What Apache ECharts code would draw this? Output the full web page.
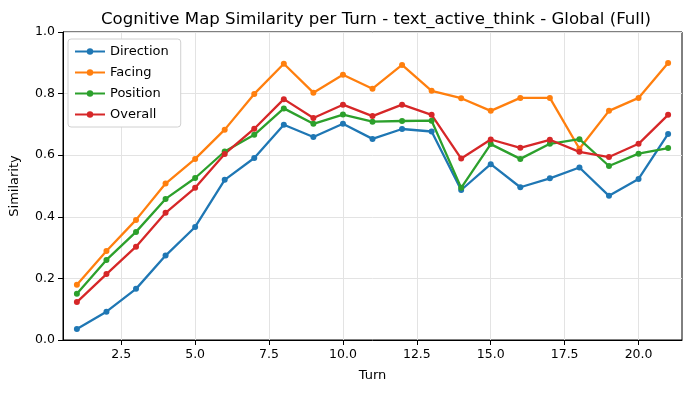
<!DOCTYPE html>
<html>
<head>
<meta charset="utf-8">
<script src="https://cdn.jsdelivr.net/npm/echarts@6/dist/echarts.min.js"></script>
<style>html,body{margin:0;padding:0;background:#fff}#c{width:691px;height:393px}</style>
</head>
<body>
<div id="c"></div>
<script>
const turns = [1,2,3,4,5,6,7,8,9,10,11,12,13,14,15,16,17,18,19,20,21];
const direction = [0.036,0.092,0.166,0.274,0.367,0.520,0.591,0.699,0.659,0.702,0.653,0.685,0.677,0.487,0.571,0.496,0.525,0.560,0.468,0.523,0.669];
const facing = [0.179,0.289,0.390,0.508,0.588,0.683,0.799,0.897,0.803,0.861,0.816,0.893,0.809,0.785,0.744,0.786,0.786,0.621,0.744,0.786,0.899];
const position = [0.150,0.260,0.351,0.458,0.526,0.612,0.666,0.752,0.702,0.732,0.709,0.711,0.712,0.494,0.636,0.588,0.637,0.652,0.565,0.605,0.623];
const overall = [0.123,0.214,0.303,0.413,0.494,0.604,0.686,0.782,0.721,0.764,0.727,0.764,0.731,0.589,0.651,0.624,0.650,0.611,0.594,0.637,0.731];
const xTicks = [2.5,5.0,7.5,10.0,12.5,15.0,17.5,20.0];
const yTicks = [0.0,0.2,0.4,0.6,0.8,1.0];

const font = 'DejaVu Sans';
const chart = echarts.init(document.getElementById('c'));
function mk(name, vals, color) {
  return {
    name: name, type: 'line',
    data: turns.map((t, i) => [t, vals[i]]),
    symbol: 'circle', symbolSize: 6,
    itemStyle: { color: color },
    lineStyle: { color: color, width: 2.3 },
    emphasis: { disabled: true },
    animation: false
  };
}
chart.setOption({
  animation: false,
  title: {
    text: 'Cognitive Map Similarity per Turn - text_active_think - Global (Full)',
    left: 371, top: 6, textAlign: 'center',
    textStyle: { fontFamily: font, fontSize: 16.6, fontWeight: 'normal', color: '#000' }
  },
  grid: { left: 62, right: 9, top: 32, bottom: 53, show: true, borderColor: '#000', borderWidth: 1, backgroundColor: 'transparent' },
  legend: {
    orient: 'vertical', left: 68, top: 39,
    itemWidth: 30, itemHeight: 8, itemGap: 8,
    padding: [6, 12, 6, 6],
    borderColor: '#d0d0d0', borderWidth: 1, borderRadius: 3, backgroundColor: '#fff',
    textStyle: { fontFamily: font, fontSize: 13, color: '#000' },
    data: ['Direction', 'Facing', 'Position', 'Overall']
  },
  xAxis: {
    type: 'value', min: 0.53, max: 21.47,
    name: 'Turn', nameLocation: 'middle', nameGap: 29,
    nameTextStyle: { fontFamily: font, fontSize: 13, color: '#000' },
    axisLine: { show: true, onZero: false, lineStyle: { color: '#000' } },
    axisTick: { show: true, length: 5, lineStyle: { color: '#000' }, customValues: xTicks },
    axisLabel: { fontFamily: font, fontSize: 12.5, color: '#000', margin: 8, customValues: xTicks, formatter: v => v.toFixed(1) },
    splitLine: { show: true, lineStyle: { color: '#e3e3e3', width: 1 } }
  },
  yAxis: {
    type: 'value', min: 0, max: 1, interval: 0.2,
    name: 'Similarity', nameLocation: 'middle', nameGap: 42,
    nameTextStyle: { fontFamily: font, fontSize: 13, color: '#000' },
    axisLine: { show: true, lineStyle: { color: '#000' } },
    axisTick: { show: true, length: 5, lineStyle: { color: '#000' } },
    axisLabel: { fontFamily: font, fontSize: 12.5, color: '#000', margin: 8, formatter: v => v.toFixed(1) },
    splitLine: { show: true, lineStyle: { color: '#e3e3e3', width: 1 } }
  },
  series: [
    mk('Direction', direction, '#1f77b4'),
    mk('Facing', facing, '#ff7f0e'),
    mk('Position', position, '#2ca02c'),
    mk('Overall', overall, '#d62728')
  ]
});
</script>
</body>
</html>
